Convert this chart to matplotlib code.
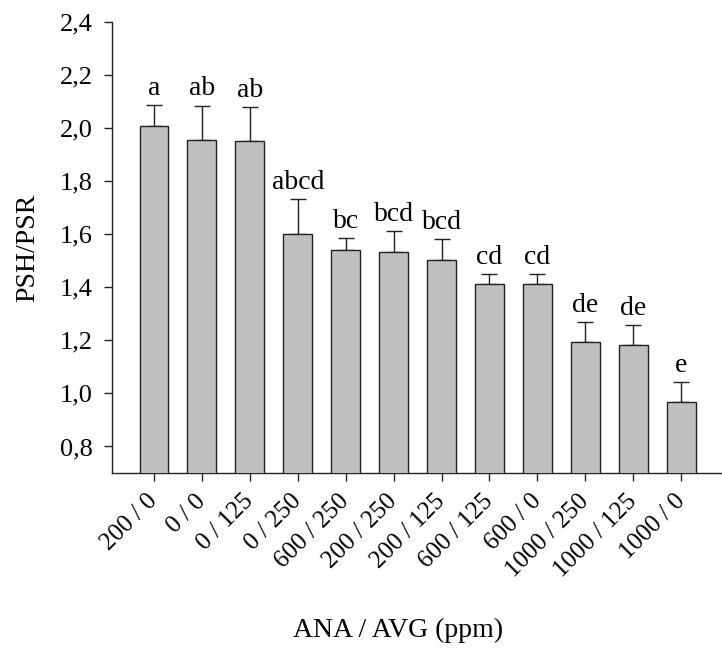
import numpy as np
import matplotlib
matplotlib.use("Agg")
import matplotlib.pyplot as plt
import matplotlib.transforms as mtransforms
from matplotlib.ticker import FuncFormatter

# ANA / AVG treatments (ppm) and shoot/root dry weight ratio
treatments = ["200 / 0", "0 / 0", "0 / 125", "0 / 250", "600 / 250", "200 / 250",
              "200 / 125", "600 / 125", "600 / 0", "1000 / 250", "1000 / 125", "1000 / 0"]
psh_psr = [2.01, 1.955, 1.951, 1.601, 1.541, 1.534, 1.503, 1.411, 1.411, 1.194, 1.184, 0.967]
std_err = [0.078, 0.13, 0.13, 0.132, 0.044, 0.078, 0.078, 0.04, 0.04, 0.074, 0.075, 0.075]
letters = ["a", "ab", "ab", "abcd", "bc", "bcd", "bcd", "cd", "cd", "de", "de", "e"]

plt.rcParams["font.family"] = ["Liberation Serif", "DejaVu Serif"]

fig = plt.figure(figsize=(7.22, 6.5), dpi=100)
ax = fig.add_axes([0.1555, 0.2723, 0.8445, 0.6937])

x = np.arange(len(treatments))
ax.bar(x, psh_psr, width=0.6, color="#c0c0c0", edgecolor="#222222",
       linewidth=1.0, zorder=3)
ax.errorbar(x, psh_psr, yerr=[np.zeros(len(x)), std_err], fmt="none",
            ecolor="#222222", elinewidth=1.0, capsize=6, capthick=1.0, zorder=2)

for xi, m, e, lab in zip(x, psh_psr, std_err, letters):
    ax.annotate(lab, (xi, m + e), xytext=(0, 3), textcoords="offset points",
                ha="center", va="bottom", fontsize=20)

ax.set_ylim(0.7, 2.4)
ax.set_xlim(-0.868, 11.85)
ax.set_yticks(np.arange(0.8, 2.41, 0.2))
ax.yaxis.set_major_formatter(FuncFormatter(lambda v, p: f"{v:.1f}".replace(".", ",")))
ax.set_xticks(x)
ax.set_xticklabels(treatments, rotation=45, ha="right", va="center",
                   rotation_mode="anchor")
# nudge the slanted labels a little to the right of their ticks
shift = mtransforms.ScaledTranslation(6 / 100, 0, fig.dpi_scale_trans)
for lbl in ax.get_xticklabels():
    lbl.set_transform(lbl.get_transform() + shift)

ax.spines["top"].set_visible(False)
ax.spines["right"].set_visible(False)
for s in ("left", "bottom"):
    ax.spines[s].set_linewidth(1.0)
    ax.spines[s].set_color("#222222")
ax.tick_params(axis="y", length=6, width=1.0, labelsize=19, pad=8, color="#222222")
ax.tick_params(axis="x", length=6, width=1.0, labelsize=18, pad=12, color="#222222")

ax.set_ylabel("PSH/PSR", fontsize=20)
ax.yaxis.set_label_coords(-0.118, 0.5)
ax.set_xlabel("ANA / AVG (ppm)", fontsize=20, va="top")
ax.xaxis.set_label_coords(0.468, -0.3215)

fig.savefig("out.png", dpi=100)
